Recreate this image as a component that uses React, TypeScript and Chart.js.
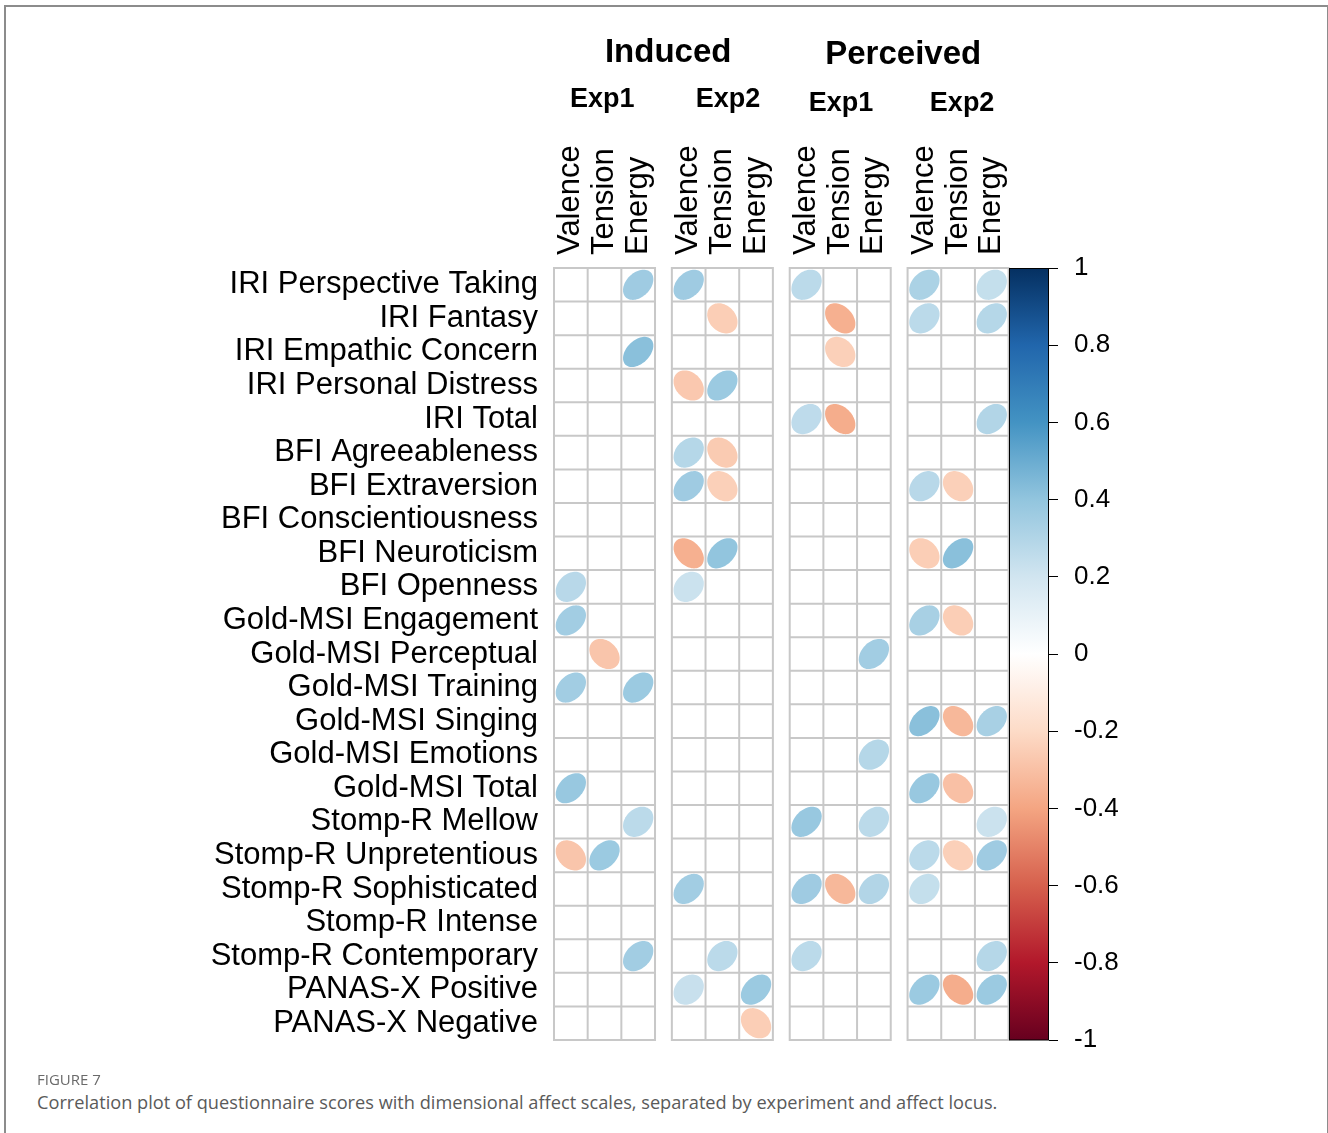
import React, { useEffect, useRef } from "react";
import { Chart, registerables } from "chart.js";

Chart.register(...registerables);

// ---------------- data ----------------
const rowLabels = [
  "IRI Perspective Taking",
  "IRI Fantasy",
  "IRI Empathic Concern",
  "IRI Personal Distress",
  "IRI Total",
  "BFI Agreeableness",
  "BFI Extraversion",
  "BFI Conscientiousness",
  "BFI Neuroticism",
  "BFI Openness",
  "Gold-MSI Engagement",
  "Gold-MSI Perceptual",
  "Gold-MSI Training",
  "Gold-MSI Singing",
  "Gold-MSI Emotions",
  "Gold-MSI Total",
  "Stomp-R Mellow",
  "Stomp-R Unpretentious",
  "Stomp-R Sophisticated",
  "Stomp-R Intense",
  "Stomp-R Contemporary",
  "PANAS-X Positive",
  "PANAS-X Negative",
];

const affectLabels = ["Valence", "Tension", "Energy"];
const locusLabels = ["Induced", "Perceived"];
const expLabels = ["Exp1", "Exp2", "Exp1", "Exp2"];
const colorbarTicks = [1, 0.8, 0.6, 0.4, 0.2, 0, -0.2, -0.4, -0.6, -0.8, -1];

const _ = null;
// [Valence, Tension, Energy] per questionnaire row; null = not shown
const inducedExp1: (number | null)[][] = [
  [_, _, 0.36],
  [_, _, _],
  [_, _, 0.42],
  [_, _, _],
  [_, _, _],
  [_, _, _],
  [_, _, _],
  [_, _, _],
  [_, _, _],
  [0.28, _, _],
  [0.35, _, _],
  [_, -0.28, _],
  [0.35, _, 0.37],
  [_, _, _],
  [_, _, _],
  [0.38, _, _],
  [_, _, 0.27],
  [-0.28, 0.37, _],
  [_, _, _],
  [_, _, _],
  [_, _, 0.35],
  [_, _, _],
  [_, _, _],
];

const inducedExp2: (number | null)[][] = [
  [0.36, _, _],
  [_, -0.25, _],
  [_, _, _],
  [-0.27, 0.37, _],
  [_, _, _],
  [0.29, -0.26, _],
  [0.36, -0.24, _],
  [_, _, _],
  [-0.36, 0.4, _],
  [0.22, _, _],
  [_, _, _],
  [_, _, _],
  [_, _, _],
  [_, _, _],
  [_, _, _],
  [_, _, _],
  [_, _, _],
  [_, _, _],
  [0.35, _, _],
  [_, _, _],
  [_, 0.27, _],
  [0.23, _, 0.37],
  [_, _, -0.25],
];

const perceivedExp1: (number | null)[][] = [
  [0.27, _, _],
  [_, -0.36, _],
  [_, -0.24, _],
  [_, _, _],
  [0.26, -0.37, _],
  [_, _, _],
  [_, _, _],
  [_, _, _],
  [_, _, _],
  [_, _, _],
  [_, _, _],
  [_, _, 0.35],
  [_, _, _],
  [_, _, _],
  [_, _, 0.29],
  [_, _, _],
  [0.38, _, 0.27],
  [_, _, _],
  [0.36, -0.33, 0.3],
  [_, _, _],
  [0.27, _, _],
  [_, _, _],
  [_, _, _],
];

const perceivedExp2: (number | null)[][] = [
  [0.32, _, 0.24],
  [0.27, _, 0.29],
  [_, _, _],
  [_, _, _],
  [_, _, 0.3],
  [_, _, _],
  [0.28, -0.24, _],
  [_, _, _],
  [-0.25, 0.42, _],
  [_, _, _],
  [0.33, -0.25, _],
  [_, _, _],
  [_, _, _],
  [0.42, -0.33, 0.33],
  [_, _, _],
  [0.38, -0.3, _],
  [_, _, 0.22],
  [0.27, -0.24, 0.36],
  [0.24, _, _],
  [_, _, _],
  [_, _, 0.29],
  [0.37, -0.37, 0.37],
  [_, _, _],
];

const groups = [inducedExp1, inducedExp2, perceivedExp1, perceivedExp2];

// corrplot RdBu palette, from -1 to 1 in 0.2 steps
const palette = [
  "#67001F", "#B2182B", "#D6604D", "#F4A582", "#FDDBC7", "#FFFFFF",
  "#D1E5F0", "#92C5DE", "#4393C3", "#2166AC", "#053061",
];

// ---------------- layout constants ----------------
const GROUP_STEP = 3.5; // 3 cells + half-cell gap
const X_MAX = 14.7;
const CB_LEFT = 13.5;
const ELL_SCALE = 0.9;
const FONT = "'Liberation Sans', Arial, Helvetica, sans-serif";
const LABEL_SIZE = 31;
const CHART_LEFT = 554;
const CHART_RIGHT = 1049;
const CHART_TOP = 268;
const CHART_BOTTOM = 1040;
const CANVAS_W = 1328;
const CANVAS_H = 1082;

function hexToRgb(h: string) {
  const n = parseInt(h.slice(1), 16);
  return [(n >> 16) & 255, (n >> 8) & 255, n & 255];
}

function colorFor(r: number) {
  const pos = ((r + 1) / 2) * (palette.length - 1);
  const i = Math.max(0, Math.min(palette.length - 2, Math.floor(pos)));
  const f = pos - i;
  const a = hexToRgb(palette[i]);
  const b = hexToRgb(palette[i + 1]);
  const c = a.map((v, k) => Math.round(v + (b[k] - v) * f));
  return `rgb(${c[0]},${c[1]},${c[2]})`;
}

const colPositions: number[] = [];
for (let g = 0; g < 4; g++) for (let c = 0; c < 3; c++) colPositions.push(g * GROUP_STEP + c + 0.5);

const points: { x: number; y: number; v: number }[] = [];
groups.forEach((mat, g) => {
  mat.forEach((row, ri) => {
    row.forEach((v, c) => {
      if (v !== null) points.push({ x: g * GROUP_STEP + c + 0.5, y: ri + 0.5, v });
    });
  });
});

const headers = [
  { text: locusLabels[0], x: 3.39, y: 53, size: 33 },
  { text: locusLabels[1], x: 10.37, y: 55, size: 33 },
  { text: expLabels[0], x: 1.43, y: 100, size: 27 },
  { text: expLabels[1], x: 5.17, y: 100, size: 27 },
  { text: expLabels[2], x: 8.52, y: 104, size: 27 },
  { text: expLabels[3], x: 12.12, y: 104, size: 27 },
];

const corrPlugin = {
  id: "corrplot",
  beforeDatasetsDraw(chart: any) {
    const { ctx, scales } = chart;
    const xs = scales.x;
    const ys = scales.y;
    const cb = scales.cb;
    ctx.save();
    // grid
    ctx.strokeStyle = "#c8c8c8";
    ctx.lineWidth = 2;
    const nRows = rowLabels.length;
    for (let g = 0; g < 4; g++) {
      const x0 = g * GROUP_STEP;
      ctx.beginPath();
      for (let c = 0; c <= 3; c++) {
        const px = xs.getPixelForValue(x0 + c);
        ctx.moveTo(px, ys.getPixelForValue(0));
        ctx.lineTo(px, ys.getPixelForValue(nRows));
      }
      for (let r = 0; r <= nRows; r++) {
        const py = ys.getPixelForValue(r);
        ctx.moveTo(xs.getPixelForValue(x0) - 1, py);
        ctx.lineTo(xs.getPixelForValue(x0 + 3) + 1, py);
      }
      ctx.stroke();
    }
    // colorbar
    const left = Math.round(xs.getPixelForValue(CB_LEFT)) + 0.5;
    const right = Math.round(chart.chartArea.right) - 0.5;
    const top = cb.getPixelForValue(1);
    const bottom = cb.getPixelForValue(-1);
    const grad = ctx.createLinearGradient(0, bottom, 0, top);
    palette.forEach((c, i) => grad.addColorStop(i / (palette.length - 1), c));
    ctx.fillStyle = grad;
    ctx.fillRect(left, top, right - left, bottom - top);
    ctx.strokeStyle = "#000";
    ctx.lineWidth = 1;
    ctx.strokeRect(left, top + 0.5, right - left, bottom - top - 0.5);
    ctx.restore();
  },
  afterDatasetsDraw(chart: any) {
    const { ctx, scales } = chart;
    const xs = scales.x;
    const ys = scales.y;
    const sx = xs.getPixelForValue(1) - xs.getPixelForValue(0);
    const sy = Math.abs(ys.getPixelForValue(1) - ys.getPixelForValue(0));
    const meta = chart.getDatasetMeta(0);
    ctx.save();
    meta.data.forEach((el: any, i: number) => {
      const r = points[i].v;
      const d = Math.acos(r);
      ctx.beginPath();
      const N = 72;
      for (let k = 0; k <= N; k++) {
        const t = (k / N) * 2 * Math.PI;
        const ux = (Math.cos(t + d / 2) / 2) * ELL_SCALE;
        const uy = (Math.cos(t - d / 2) / 2) * ELL_SCALE;
        const X = el.x + ux * sx;
        const Y = el.y - uy * sy;
        if (k === 0) ctx.moveTo(X, Y);
        else ctx.lineTo(X, Y);
      }
      ctx.closePath();
      ctx.fillStyle = colorFor(r);
      ctx.fill();
    });
    // headers
    ctx.fillStyle = "#000";
    ctx.textAlign = "center";
    ctx.textBaseline = "middle";
    headers.forEach((h) => {
      ctx.font = `bold ${h.size}px ${FONT}`;
      ctx.fillText(h.text, xs.getPixelForValue(h.x), h.y);
    });
    ctx.restore();
  },
};

export default function App() {
  const ref = useRef<HTMLCanvasElement | null>(null);

  useEffect(() => {
    if (!ref.current) return;
    const chart = new Chart(ref.current, {
      type: "scatter",
      data: {
        datasets: [
          {
            data: points.map((p) => ({ x: p.x, y: p.y })),
            pointRadius: 0,
            pointHoverRadius: 0,
            backgroundColor: "rgba(0,0,0,0)",
            borderColor: "rgba(0,0,0,0)",
          },
        ],
      },
      options: {
        animation: false,
        responsive: false,
        devicePixelRatio: 1,
        events: [],
        layout: {
          autoPadding: false,
          padding: { left: 0, right: 0, top: 0, bottom: CANVAS_H - CHART_BOTTOM },
        },
        plugins: { legend: { display: false }, tooltip: { enabled: false }, title: { display: false } },
        scales: {
          x: {
            type: "linear",
            position: "top",
            min: 0,
            max: X_MAX,
            grid: { display: false, drawTicks: false },
            border: { display: false },
            afterBuildTicks: (s: any) => {
              s.ticks = colPositions.map((v) => ({ value: v }));
            },
            afterFit: (s: any) => {
              s.height = CHART_TOP;
            },
            ticks: {
              autoSkip: false,
              minRotation: 90,
              maxRotation: 90,
              padding: 13,
              labelOffset: LABEL_SIZE * 1.2,
              color: "#000",
              font: { size: LABEL_SIZE, family: FONT },
              callback: (_v: any, i: number) => affectLabels[i % 3],
            },
          },
          y: {
            type: "linear",
            position: "left",
            reverse: true,
            min: 0,
            max: rowLabels.length,
            grid: { display: false, drawTicks: false },
            border: { display: false },
            afterBuildTicks: (s: any) => {
              s.ticks = rowLabels.map((_l, i) => ({ value: i + 0.5 }));
            },
            afterFit: (s: any) => {
              s.width = CHART_LEFT;
            },
            ticks: {
              autoSkip: false,
              padding: 16,
              color: "#000",
              font: { size: LABEL_SIZE, family: FONT },
              callback: (_v: any, i: number) => rowLabels[i],
            },
          },
          cb: {
            type: "linear",
            position: "right",
            min: -1,
            max: 1,
            grid: { display: true, drawOnChartArea: false, drawTicks: true, tickLength: 9, color: "#000", lineWidth: 1 },
            border: { display: false },
            afterBuildTicks: (s: any) => {
              s.ticks = colorbarTicks.map((v) => ({ value: v }));
            },
            afterFit: (s: any) => {
              s.width = CANVAS_W - CHART_RIGHT;
            },
            ticks: {
              autoSkip: false,
              padding: 16,
              color: "#000",
              font: { size: 26, family: FONT },
              callback: (_v: any, i: number) => String(colorbarTicks[i]),
            },
          },
        },
      },
      plugins: [corrPlugin],
    } as any);
    return () => chart.destroy();
  }, []);

  return (
    <div
      style={{
        position: "absolute",
        left: 0,
        top: 0,
        width: 1328,
        height: 1133,
        overflow: "hidden",
        background: "#fff",
      }}
    >
      <div
        style={{
          position: "absolute",
          left: 4,
          top: 5,
          width: 1321,
          height: 1200,
          border: "2px solid #8c8c8c",
          borderBottom: "none",
        }}
      />
      <canvas
        ref={ref}
        width={CANVAS_W}
        height={CANVAS_H}
        style={{ position: "absolute", left: 0, top: 0, width: CANVAS_W, height: CANVAS_H }}
      />
      <div
        style={{
          position: "absolute",
          left: 37,
          top: 1069,
          fontFamily: "'Open Sans', sans-serif",
          fontSize: 15,
          color: "#6a6a6a",
          lineHeight: "20px",
        }}
      >
        FIGURE 7
      </div>
      <div
        style={{
          position: "absolute",
          left: 37,
          top: 1090,
          fontFamily: "'Open Sans', sans-serif",
          fontSize: 18.2,
          color: "#5a5a5a",
          lineHeight: "24px",
          whiteSpace: "nowrap",
        }}
      >
        Correlation plot of questionnaire scores with dimensional affect scales, separated by experiment and affect locus.
      </div>
    </div>
  );
}
